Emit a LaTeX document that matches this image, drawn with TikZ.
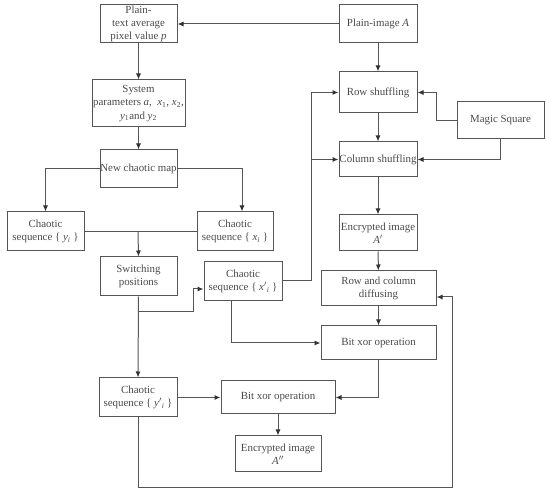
\documentclass[tikz,border=0pt]{standalone}
\usepackage{fontspec}
\setmainfont{Liberation Serif}
\usetikzlibrary{arrows.meta}
\definecolor{ln}{HTML}{555555}
\definecolor{tx}{HTML}{4A4A4A}
\newcommand{\iv}[1]{\textit{#1}}
\begin{document}
\begin{tikzpicture}[x=1pt,y=-1pt,
  bx/.style={draw=ln, line width=1pt, align=center, inner sep=0pt, text=tx,
    font=\fontsize{10.9}{13.3}\selectfont},
  conn/.style={draw=ln, line width=1pt},
  arr/.style={conn, -{Latex[length=6pt,width=5pt,color=black!80]}}]
\useasboundingbox (0,0) rectangle (550,492);
% left column
\node[bx, minimum width=77pt, minimum height=38pt] (pt) at (138.5,24) {Plain-\\text average\\pixel value \iv{p}};
\node[bx, minimum width=93pt, minimum height=47pt] (sp) at (138.5,103.5) {System\\parameters \iv{a},~ \iv{x}\textsubscript{1}, \iv{x}\textsubscript{2},\\\iv{y}\textsubscript{1}and \iv{y}\textsubscript{2}};
\node[bx, minimum width=77pt, minimum height=38pt] (ncm) at (138.5,169) {New chaotic map};
\node[bx, minimum width=77pt, minimum height=39pt] (yi) at (45.5,231.5) {Chaotic\\sequence \{ \iv{y}\textsubscript{\iv{i}} \}};
\node[bx, minimum width=76pt, minimum height=39pt] (xi) at (235,231.5) {Chaotic\\sequence \{ \iv{x}\textsubscript{\iv{i}} \}};
\node[bx, minimum width=77pt, minimum height=39pt] (sw) at (138.5,276.5) {Switching\\positions};
\node[bx, minimum width=78pt, minimum height=39pt] (xpi) at (243,281.5) {Chaotic\\sequence \{ \iv{x}$'$\textsubscript{\iv{i}} \}};
\node[bx, minimum width=78pt, minimum height=39pt] (yp) at (138,397.5) {Chaotic\\sequence \{ \iv{y}$'$\textsubscript{\iv{i}} \}};
% right column
\node[bx, minimum width=78pt, minimum height=38pt] (pi) at (378,24) {Plain-image \iv{A}};
\node[bx, minimum width=78pt, minimum height=41pt] (rs) at (378,92.5) {Row shuffling};
\node[bx, minimum width=87pt, minimum height=37pt] (ms) at (500.5,120.5) {Magic Square};
\node[bx, minimum width=78pt, minimum height=35pt] (cs) at (378,159.5) {Column shuffling};
\node[bx, minimum width=78pt, minimum height=36pt] (ea) at (378,233) {Encrypted image\\\iv{A}$'$};
\node[bx, minimum width=115pt, minimum height=35pt] (rcd) at (378.5,288.5) {Row and column\\diffusing};
\node[bx, minimum width=115pt, minimum height=34pt] (bx1) at (378.5,343) {Bit xor operation};
\node[bx, minimum width=114pt, minimum height=33pt] (bx2) at (278,397.5) {Bit xor operation};
\node[bx, minimum width=86pt, minimum height=36pt] (ea2) at (278,454) {Encrypted image\\\iv{A}$''$};
% helper coordinates
\coordinate (jy) at (138,231.5);
\coordinate (jsw) at (138,312);
\coordinate (xr) at (242,169);
\coordinate (fb) at (311,281);
\coordinate (lb) at (138,487);
\coordinate (rb) at (452,487);
% connectors
\draw[arr] (pi.west) -- (pt.east);
\draw[arr] (pi) -- (rs);
\draw[arr] (rs) -- (cs);
\draw[arr] (ms.west) -- ++(-20,0) |- (rs.east);
\draw[arr] (ms.south) |- (cs.east);
\draw[arr] (cs) -- (ea);
\draw[arr] (ea) -- (rcd);
\draw[arr] (rcd) -- (bx1);
\draw[arr] (pt) -- (sp);
\draw[arr] (sp) -- (ncm);
\draw[arr] (ncm.west) -| (yi.north);
\draw[arr] (ncm.east) -- (xr) -- (xr |- xi.north);
\draw[conn] (yi.east) -- (xi.west);
\draw[arr] (jy) -- (sw.north);
\draw[arr] (sw.south) -- (yp.north);
\draw[arr] (jsw) -- (193,312) -- (193,289) -- (xpi.west |- 0,289);
\draw[arr] (xpi.east |- fb) -- (fb) |- (rs.west);
\draw[arr] (fb |- cs.west) -- (cs.west);
\draw[arr] (231,301) |- (bx1.west);
\draw[arr] (bx1.south) |- (bx2.east);
\draw[arr] (yp.east) -- (bx2.west);
\draw[arr] (bx2) -- (ea2);
\draw[arr] (yp.south) -- (lb) -- (rb) |- (rcd.east |- 0,297);
\end{tikzpicture}
\end{document}
